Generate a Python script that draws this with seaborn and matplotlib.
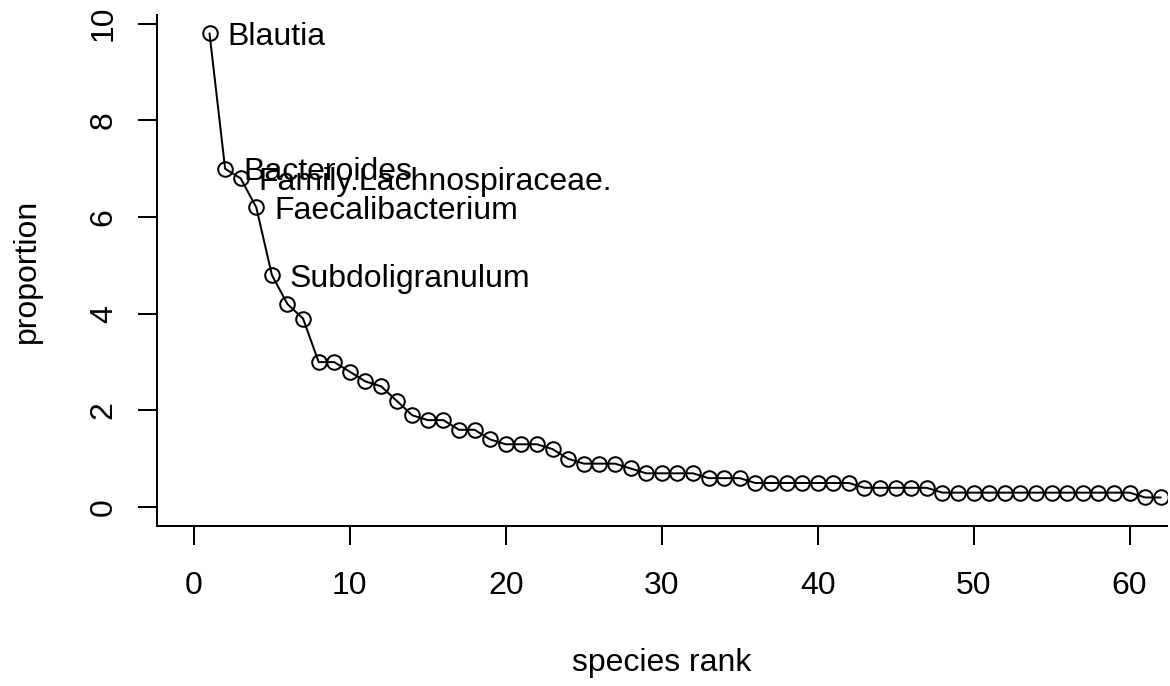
import matplotlib
matplotlib.use("Agg")
import matplotlib.pyplot as plt
import seaborn as sns
import pandas as pd

# ---- data ----
species_rank = list(range(1, 63))
proportion = [9.8, 7.0, 6.8, 6.2, 4.8, 4.2, 3.9, 3.0, 3.0, 2.8,
              2.6, 2.5, 2.2, 1.9, 1.8, 1.8, 1.6, 1.6, 1.4, 1.3,
              1.3, 1.3, 1.2, 1.0, 0.9, 0.9, 0.9, 0.8, 0.7, 0.7,
              0.7, 0.7, 0.6, 0.6, 0.6, 0.5, 0.5, 0.5, 0.5, 0.5,
              0.5, 0.5, 0.4, 0.4, 0.4, 0.4, 0.4, 0.3, 0.3, 0.3,
              0.3, 0.3, 0.3, 0.3, 0.3, 0.3, 0.3, 0.3, 0.3, 0.3,
              0.2, 0.2]
top_labels = ["Blautia", "Bacteroides", "Family.Lachnospiraceae.",
              "Faecalibacterium", "Subdoligranulum"]
x_ticks = [0, 10, 20, 30, 40, 50, 60]
y_ticks = [0, 2, 4, 6, 8, 10]

df = pd.DataFrame({"rank": species_rank, "proportion": proportion})

sns.set_theme(style="white")
plt.rcParams["font.family"] = ["Liberation Sans", "DejaVu Sans"]
FS = 23
LW = 1.44

fig = plt.figure(figsize=(11.7, 6.86), dpi=100)
W, H = 1170, 686
left, right, top, bottom = 156.5, 1167, 15, 526
ax = fig.add_axes([left / W, (H - bottom) / H, (right - left) / W, (bottom - top) / H])

sns.lineplot(data=df, x="rank", y="proportion", ax=ax, color="black",
             linewidth=LW, marker="o", markersize=10.5,
             markerfacecolor="none", markeredgecolor="black",
             markeredgewidth=LW)

for i, name in enumerate(top_labels):
    ax.annotate(name, (species_rank[i], proportion[i]), xytext=(13, 0),
                textcoords="offset points", ha="left", va="center_baseline",
                fontsize=FS, color="black")

ax.set_xlim(-2.4, 62.4)
ax.set_ylim(-0.39, 10.18)
ax.set_xticks(x_ticks)
ax.set_xticklabels([str(t) for t in x_ticks])
ax.set_yticks(y_ticks)
ax.set_yticklabels([str(t) for t in y_ticks], rotation=90, va="center")

for s in ["top", "right"]:
    ax.spines[s].set_visible(False)
for s in ["left", "bottom"]:
    ax.spines[s].set_visible(True)
    ax.spines[s].set_color("black")
    ax.spines[s].set_linewidth(LW)

ax.tick_params(axis="x", direction="out", length=13.7, width=LW, pad=19,
               labelsize=FS, colors="black", bottom=True)
ax.tick_params(axis="y", direction="out", length=13.7, width=LW, pad=13.4,
               labelsize=FS, colors="black", left=True)
ax.grid(False)

ax.set_xlabel("species rank", fontsize=FS, color="black", va="center")
ax.xaxis.set_label_coords(0.5, (bottom - 663.5) / (bottom - top))
ax.set_ylabel("proportion", fontsize=FS, color="black", va="center")
ax.yaxis.set_label_coords((27 - left) / (right - left), 0.5)

fig.savefig("out.png", dpi=100)
